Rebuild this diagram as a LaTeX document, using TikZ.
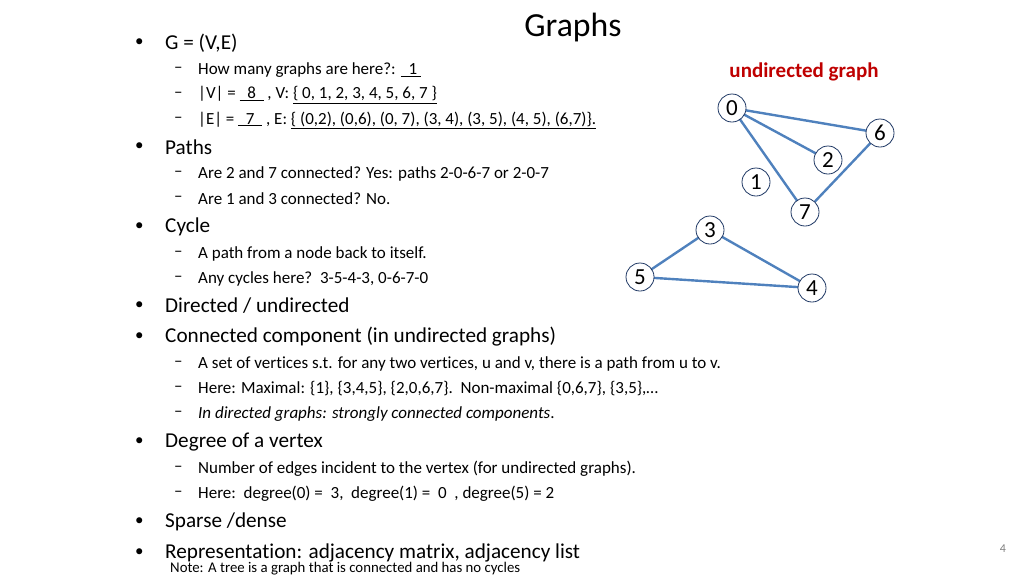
\documentclass[tikz,border=0pt]{standalone}
\usepackage{fontspec}
\setmainfont[Ligatures=NoCommon]{Carlito}
\definecolor{edgeblue}{HTML}{4F81BD}
\definecolor{rimblue}{HTML}{1F3864}
\begin{document}
\begin{tikzpicture}[x=1pt,y=-1pt]
  \tikzstyle{vtx} = [circle, draw=rimblue, thick, fill=white, inner sep=0pt, minimum size=28pt, font=\fontsize{23}{25}\selectfont]
  \tikzstyle{edge} = [draw=edgeblue, line width=2.4pt]
  \tikzstyle{lone} = [anchor=west, inner sep=0pt, font=\fontsize{21.2}{25}\selectfont]
  \tikzstyle{ltwo} = [anchor=west, inner sep=0pt, font=\fontsize{17}{20}\selectfont]
  \useasboundingbox (0,0) rectangle (1024,576);
  \node (title) at (573,28) {\fontsize{33.7}{38}\selectfont Graphs};
  % first level bullets
  \foreach \y/\t [count=\i] in {43/{G = (V,E)}, 147/Paths, 227/Cycle, 306/{Directed / undirected},
      337/{Connected component (in undirected graphs)}, 442/{Degree of a vertex}, 522/{Sparse /dense},
      553/{Representation: adjacency matrix, adjacency list}}{
    \node (b\i) [anchor=west, inner sep=0pt, font=\fontsize{17}{20}\selectfont] at (135,\y) {•};
    \node (t\i) [lone] at (165,\y) {\t};
  }
  % second level
  \foreach \y/\t [count=\i] in {70/{How many graphs are here?: \underline{\ \ 1\ }},
      95/{|V| = \underline{\ \ 8\ \ } ,\ V: \underline{\{ 0, 1, 2, 3, 4, 5, 6, 7 \}}},
      120/{|E| = \underline{\ \ 7\ \ } ,\ E: \underline{\{ (0,2), (0,6), (0, 7), (3, 4), (3, 5), (4, 5), (6,7)\}.}},
      174/{Are 2 and 7 connected? Yes: paths 2-0-6-7 or 2-0-7},
      199/{Are 1 and 3 connected? No.},
      254/{A path from a node back to itself.},
      279/{Any cycles here?\ \ 3-5-4-3, 0-6-7-0},
      364/{A set of vertices s.t. for any two vertices, u and v, there is a path from u to v.},
      389/{Here: Maximal: \{1\}, \{3,4,5\}, \{2,0,6,7\}.\ \ Non-maximal \{0,6,7\}, \{3,5\},…},
      414/{\textit{In directed graphs: strongly connected components}.},
      469/{Number of edges incident to the vertex (for undirected graphs).},
      494/{Here:\ \ degree(0) = \ 3,\ \ degree(1) = \ 0\ \ , degree(5) = 2}}{
    \node (d\i) [ltwo] at (174,\y) {–};
    \node (s\i) [ltwo] at (198,\y) {\t};
  }
  \node (note) [anchor=west, inner sep=0pt, font=\fontsize{14.8}{17}\selectfont] at (170,569) {Note: A tree is a graph that is connected and has no cycles};
  \node (page) [text=gray, font=\fontsize{12}{14}\selectfont] at (1003,549) {4};
  \node (cap) [text=red!75!black, font=\fontsize{21}{24}\selectfont\bfseries] at (804,72) {undirected graph};
  % the graph
  \draw [edge] (732,108) -- (880,133) (732,108) -- (828,160) (732,108) -- (805,212)
    (880,133) -- (805,212) (710,230) -- (640,277) (710,230) -- (812,288) (640,277) -- (812,288);
  \foreach \n/\x/\y in {0/732/108, 6/880/133, 2/828/160, 1/756/182, 7/805/212, 3/710/230, 5/640/277, 4/812/288}
    \node (v\n) [vtx] at (\x,\y) {\n};
\end{tikzpicture}
\end{document}
